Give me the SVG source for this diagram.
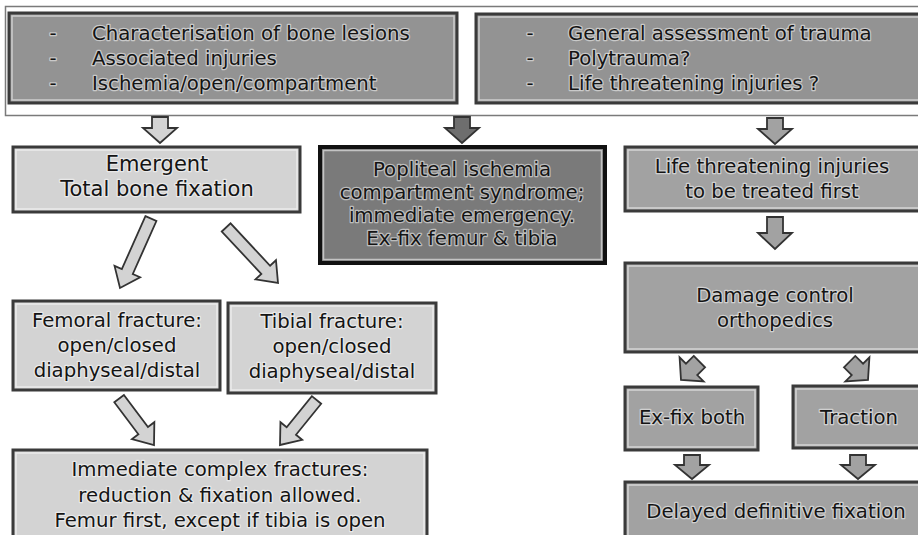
<svg xmlns="http://www.w3.org/2000/svg" width="918" height="535" viewBox="0 0 918 535">
<style>
.t{font-family:"DejaVu Sans","Open Sans",sans-serif;font-size:19.7px;fill:#141414;text-anchor:middle;stroke:#ffffff;stroke-opacity:0.5;stroke-width:2.5px;paint-order:stroke;stroke-linejoin:round}
.l{text-anchor:start}
.bx{stroke:#3a3a3a;stroke-width:3}
.in{fill:none;stroke:#ffffff;stroke-opacity:0.55;stroke-width:1.5}
.light{fill:#d3d3d3}
.mid{fill:#a2a2a2}
.top{fill:#939393}
.ar{stroke:#333;stroke-width:1.8;stroke-linejoin:miter}
</style>
<defs>
<path id="aS" d="M-8,-26 H8 V-15 H17 L0,0 L-17,-15 H-8 Z"/>
<path id="aM" d="M-8,-32 H8 V-16 H17 L0,0 L-17,-16 H-8 Z"/>
<path id="aB" d="M-8,-24 H8 V-14 H17 L0,0 L-17,-14 H-8 Z"/>
<path id="aL78" d="M-6,-76 H6 V-18 H14 L0,0 L-14,-18 H-6 Z"/>
<path id="aL58" d="M-6,-58 H6 V-18 H14 L0,0 L-14,-18 H-6 Z"/>
</defs>
<rect width="918" height="535" fill="#ffffff"/>
<rect x="5.5" y="6.5" width="916" height="109" fill="#ffffff" stroke="#7a7a7a" stroke-width="1.5"/>

<g id="top-left">
<rect class="bx top" x="9" y="13" width="448" height="90"/>
<rect class="in" x="12" y="16" width="442" height="84"/>
<text class="t" x="53" y="40">-</text><text class="t l" x="92" y="40">Characterisation of bone lesions</text>
<text class="t" x="53" y="65">-</text><text class="t l" x="92" y="65">Associated injuries</text>
<text class="t" x="53" y="90">-</text><text class="t l" x="92" y="90">Ischemia/open/compartment</text>
</g>
<g id="top-right">
<rect class="bx top" x="476" y="14" width="446" height="89"/>
<rect class="in" x="479" y="17" width="440" height="83"/>
<text class="t" x="530" y="40">-</text><text class="t l" x="568" y="40">General assessment of trauma</text>
<text class="t" x="530" y="65">-</text><text class="t l" x="568" y="65">Polytrauma?</text>
<text class="t" x="530" y="90">-</text><text class="t l" x="568" y="90">Life threatening injuries ?</text>
</g>

<g id="emergent">
<rect class="bx light" x="13" y="147" width="287" height="65"/>
<rect class="in" x="16" y="150" width="281" height="59"/>
<text class="t" x="157" y="171" style="font-size:21px">Emergent</text>
<text class="t" x="157" y="196" style="font-size:21px">Total bone fixation</text>
</g>
<g id="popliteal">
<rect x="320" y="147" width="285" height="116" fill="#7a7a7a" stroke="#111" stroke-width="4"/>
<rect class="in" x="323.5" y="150.5" width="278" height="109"/>
<text class="t" x="462" y="176">Popliteal ischemia</text>
<text class="t" x="462" y="199">compartment syndrome;</text>
<text class="t" x="462" y="222">immediate emergency.</text>
<text class="t" x="462" y="245">Ex-fix femur &amp; tibia</text>
</g>
<g id="life">
<rect class="bx mid" x="625" y="147" width="298" height="64"/>
<rect class="in" x="628" y="150" width="292" height="58"/>
<text class="t" x="772" y="173">Life threatening injuries</text>
<text class="t" x="772" y="198">to be treated first</text>
</g>
<g id="damage">
<rect class="bx mid" x="625" y="263" width="298" height="89"/>
<rect class="in" x="628" y="266" width="292" height="83"/>
<text class="t" x="775" y="302">Damage control</text>
<text class="t" x="775" y="327">orthopedics</text>
</g>
<g id="exfix">
<rect class="bx mid" x="625" y="387" width="133" height="63"/>
<rect class="in" x="628" y="390" width="127" height="57"/>
<text class="t" x="692" y="424">Ex-fix both</text>
</g>
<g id="traction">
<rect class="bx mid" x="793" y="386" width="130" height="62"/>
<rect class="in" x="796" y="389" width="124" height="56"/>
<text class="t" x="859" y="424">Traction</text>
</g>
<g id="delayed">
<rect class="bx mid" x="625" y="482" width="298" height="70"/>
<rect class="in" x="628" y="485" width="292" height="64"/>
<text class="t" x="776" y="518">Delayed definitive fixation</text>
</g>
<g id="femoral">
<rect class="bx light" x="13" y="301" width="207" height="89"/>
<rect class="in" x="16" y="304" width="201" height="83"/>
<text class="t" x="117" y="327">Femoral fracture:</text>
<text class="t" x="117" y="352">open/closed</text>
<text class="t" x="117" y="377">diaphyseal/distal</text>
</g>
<g id="tibial">
<rect class="bx light" x="228" y="303" width="208" height="90"/>
<rect class="in" x="231" y="306" width="202" height="84"/>
<text class="t" x="332" y="328">Tibial fracture:</text>
<text class="t" x="332" y="353">open/closed</text>
<text class="t" x="332" y="378">diaphyseal/distal</text>
</g>
<g id="immediate">
<rect class="bx light" x="13" y="450" width="414" height="100"/>
<rect class="in" x="16" y="453" width="408" height="94"/>
<text class="t" x="220" y="476">Immediate complex fractures:</text>
<text class="t" x="220" y="502">reduction &amp; fixation allowed.</text>
<text class="t" x="220" y="527">Femur first, except if tibia is open</text>
</g>

<g id="connectors">
<use href="#aS" class="ar light" transform="translate(160,143)"/>
<use href="#aS" class="ar" fill="#6e6e6e" stroke="#111" transform="translate(462,143)"/>
<use href="#aS" class="ar mid" transform="translate(775,144)"/>
<use href="#aM" class="ar mid" transform="translate(775,249)"/>
<use href="#aL78" class="ar light" transform="translate(120,288) rotate(24)"/>
<use href="#aL78" class="ar light" transform="translate(278,283) rotate(-43)"/>
<use href="#aL58" class="ar light" transform="translate(154,445) rotate(-37)"/>
<use href="#aL58" class="ar light" transform="translate(280,445) rotate(39)"/>
<use href="#aS" class="ar mid" transform="translate(681,380) rotate(45)"/>
<use href="#aS" class="ar mid" transform="translate(868,380) rotate(-45)"/>
<use href="#aB" class="ar mid" transform="translate(692,479)"/>
<use href="#aB" class="ar mid" transform="translate(858,479)"/>
</g>
</svg>
